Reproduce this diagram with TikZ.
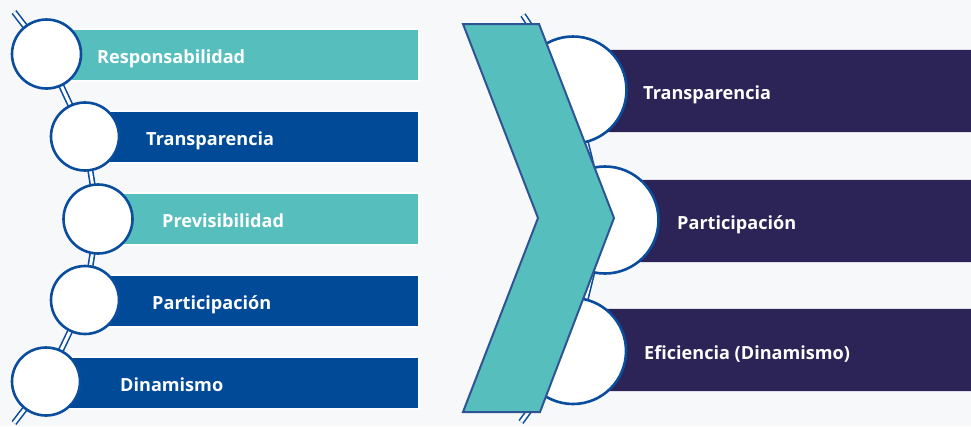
\documentclass[tikz,border=0pt]{standalone}
\usepackage{fontspec}
\setmainfont{Open Sans}
\definecolor{bg}{HTML}{F7F8FA}
\definecolor{tealc}{HTML}{56BFBD}
\definecolor{navy}{HTML}{004A98}
\definecolor{ringc}{HTML}{0A4C9E}
\definecolor{purp}{HTML}{2C2356}
\definecolor{chevline}{HTML}{2F5496}
\begin{document}
\begin{tikzpicture}[x=1pt,y=-1pt,
  chain/.style={draw=ringc, line width=1.6pt, double=white, double distance=3pt},
  ball/.style={circle, draw=ringc, line width=2.6pt, fill=white, inner sep=0pt, minimum size=#1},
  lbar/.style={rectangle, draw=white, line width=2pt, inner sep=0pt, minimum height=52pt, anchor=west},
  rbar/.style={rectangle, draw=white!85!purp, line width=1pt, fill=purp, inner sep=0pt, minimum height=83pt, anchor=west},
  lbl/.style={text=white, font=\fontsize{18.1}{21}\selectfont\bfseries, inner sep=0pt, anchor=base west},
  chev/.style={fill=tealc, draw=chevline, line width=2pt, line join=miter}
]
\fill[bg] (0,0) rectangle (971,426);
\useasboundingbox (0,0) rectangle (971,426);

% left chain
\coordinate (lt) at (14,12);
\coordinate (lb) at (14,423);
\coordinate (p1) at (46.5,54);
\coordinate (p2) at (85,136.5);
\coordinate (p3) at (98,219);
\coordinate (p4) at (85,300);
\coordinate (p5) at (46,381.5);
\draw[chain] (lt) -- (p1) -- (p2) -- (p3) -- (p4) -- (p5) -- (lb);

% left bars
\node[lbar, fill=tealc, minimum width=348pt] (b1) at (70,55) {};
\node[lbar, fill=navy, minimum width=333pt] (b2) at (85,137) {};
\node[lbar, fill=tealc, minimum width=320pt] (b3) at (98,219) {};
\node[lbar, fill=navy, minimum width=333pt] (b4) at (85,301) {};
\node[lbar, fill=navy, minimum width=372pt] (b5) at (46,383) {};

% left circles
\node[ball=69pt] (c1) at (p1) {};
\node[ball=68pt] (c2) at (p2) {};
\node[ball=69pt] (c3) at (p3) {};
\node[ball=68pt] (c4) at (p4) {};
\node[ball=68pt] (c5) at (p5) {};

% left labels
\node[lbl] (t1) at (97,63.5) {Responsabilidad};
\node[lbl] (t2) at (146,145.5) {Transparencia};
\node[lbl] (t3) at (162,227.5) {Previsibilidad};
\node[lbl] (t4) at (152,309.5) {Participación};
\node[lbl] (t5) at (120,391.5) {Dinamismo};

% right chain
\coordinate (rt) at (523,15);
\coordinate (rb) at (521,422);
\coordinate (q1) at (573,90);
\coordinate (q2) at (605,220);
\coordinate (q3) at (573,351);
\draw[chain] (rt) -- (q1) -- (q2) -- (q3) -- (rb);

% right bars
\node[rbar, minimum width=400pt] (r1) at (573,90.5) {};
\node[rbar, minimum width=370pt] (r2) at (605,220.5) {};
\node[rbar, minimum width=400pt] (r3) at (573,350) {};

% right circles
\node[ball=107pt] (d1) at (q1) {};
\node[ball=107pt] (d2) at (q2) {};
\node[ball=106pt] (d3) at (q3) {};

% chevron
\draw[chev] (463,24) -- (539,24) -- (614,218) -- (540,412) -- (463,412) -- (538,218) -- cycle;

% right labels
\node[lbl] (u1) at (643,99) {Transparencia};
\node[lbl] (u2) at (677,229) {Participación};
\node[lbl] (u3) at (644,359) {Eficiencia (Dinamismo)};
\end{tikzpicture}
\end{document}
